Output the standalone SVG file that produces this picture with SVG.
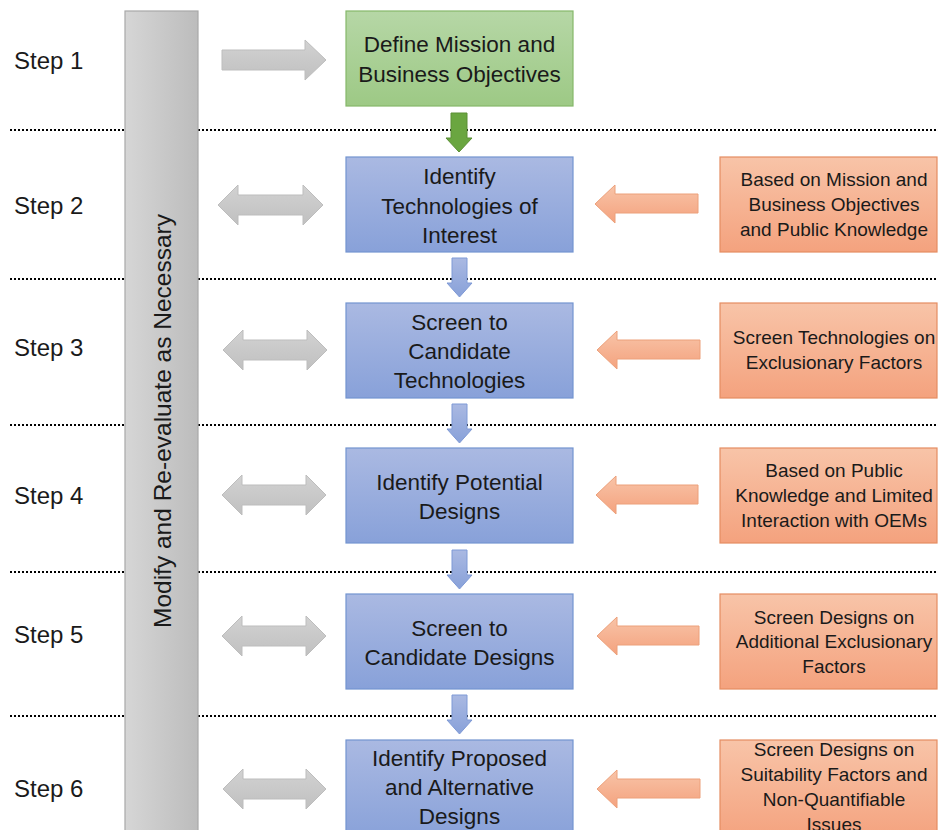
<svg xmlns="http://www.w3.org/2000/svg" width="938" height="830" viewBox="0 0 938 830">
<defs>
<linearGradient id="gBar" x1="0" y1="0" x2="1" y2="0"><stop offset="0" stop-color="#d6d6d6"/><stop offset="1" stop-color="#bcbcbc"/></linearGradient>
<linearGradient id="gGray" x1="0" y1="0" x2="0" y2="1"><stop offset="0" stop-color="#d2d2d2"/><stop offset="1" stop-color="#c0c0c0"/></linearGradient>
<linearGradient id="gGreen" x1="0" y1="0" x2="0" y2="1"><stop offset="0" stop-color="#b6d7a6"/><stop offset="1" stop-color="#9dc985"/></linearGradient>
<linearGradient id="gBlue" x1="0" y1="0" x2="0" y2="1"><stop offset="0" stop-color="#aab9e2"/><stop offset="1" stop-color="#88a1d9"/></linearGradient>
<linearGradient id="gOrange" x1="0" y1="0" x2="0" y2="1"><stop offset="0" stop-color="#f8c4a8"/><stop offset="1" stop-color="#f4a27e"/></linearGradient>
</defs>
<style>
.t{font-family:"Liberation Sans",Arial,sans-serif;fill:#1a1a1a;text-anchor:middle}
.box{font-size:22.5px}
.side{font-size:19px}
.step{font-size:24px;text-anchor:start}
.blue{fill:url(#gBlue);stroke:#7394d0;stroke-width:1.2}
.orange{fill:url(#gOrange);stroke:#e58d62;stroke-width:1.2}
.green{fill:url(#gGreen);stroke:#85b86a;stroke-width:1.2}
.garrow{fill:url(#gGray);stroke:#bdbdbd;stroke-width:1}
.oarrow{fill:url(#gOrange);stroke:#eca07a;stroke-width:1}
.barrow{fill:url(#gBlue);stroke:#7f9ad6;stroke-width:1}
.dot{stroke:#000;stroke-width:2;stroke-dasharray:2 2;fill:none}
</style>
<rect width="938" height="830" fill="#fff"/>

<g id="dividers">
<line class="dot" x1="10" y1="130" x2="938" y2="130"/>
<line class="dot" x1="10" y1="279" x2="938" y2="279"/>
<line class="dot" x1="10" y1="425" x2="938" y2="425"/>
<line class="dot" x1="10" y1="572" x2="938" y2="572"/>
<line class="dot" x1="10" y1="716" x2="938" y2="716"/>
</g>

<g id="bar">
<rect x="125" y="11" width="73" height="830" fill="url(#gBar)" stroke="#a8a8a8" stroke-width="1.2"/>
<text class="t" x="0" y="0" font-size="24.5" transform="translate(171,421) rotate(-90)">Modify and Re-evaluate as Necessary</text>
</g>

<g id="steps">
<text class="t step" x="14" y="69">Step 1</text>
<text class="t step" x="14" y="214">Step 2</text>
<text class="t step" x="14" y="356">Step 3</text>
<text class="t step" x="14" y="504">Step 4</text>
<text class="t step" x="14" y="643">Step 5</text>
<text class="t step" x="14" y="797">Step 6</text>
</g>

<g id="connectors">
<path class="garrow" d="M222,50 H305 V40 L326,60 L305,80 V70 H222 Z"/>
<path class="garrow" d="M218,205 L238,185 V195 H303 V185 L323,205 L303,225 V215 H238 V225 Z"/>
<path class="garrow" d="M223,350 L243,330 V340 H307 V330 L327,350 L307,370 V360 H243 V370 Z"/>
<path class="garrow" d="M222,495 L242,475 V485 H306 V475 L326,495 L306,515 V505 H242 V515 Z"/>
<path class="garrow" d="M222,636 L242,616 V626 H306 V616 L326,636 L306,656 V646 H242 V656 Z"/>
<path class="garrow" d="M223,789 L243,769 V779 H306 V769 L326,789 L306,809 V799 H243 V809 Z"/>

<path d="M451,113 H467 V138 H472 L459,152 L446,138 H451 Z" fill="#6aa640" stroke="#5a8f35" stroke-width="1"/>
<path class="barrow" d="M452,258 H467 V283 H472 L459.5,297 L447,283 H452 Z"/>
<path class="barrow" d="M452,404 H467 V429 H472 L459.5,443 L447,429 H452 Z"/>
<path class="barrow" d="M452,550 H467 V575 H472 L459.5,589 L447,575 H452 Z"/>
<path class="barrow" d="M452,695 H467 V720 H472 L459.5,734 L447,720 H452 Z"/>

<path class="oarrow" d="M698,194 H615 V185 L595,204 L615,223 V213 H698 Z"/>
<path class="oarrow" d="M700,340 H617 V331 L597,350 L617,369 V359 H700 Z"/>
<path class="oarrow" d="M698,485 H616 V476 L596,495 L616,514 V504 H698 Z"/>
<path class="oarrow" d="M699,626 H617 V617 L597,636 L617,655 V645 H699 Z"/>
<path class="oarrow" d="M700,779 H617 V770 L597,789 L617,808 V798 H700 Z"/>
</g>

<g id="n1">
<rect class="green" x="346" y="11" width="227" height="95"/>
<text class="t box" x="459.5" y="52">Define Mission and</text>
<text class="t box" x="459.5" y="82">Business Objectives</text>
</g>
<g id="n2">
<rect class="blue" x="346" y="157" width="227" height="95"/>
<text class="t box" x="459.5" y="184">Identify</text>
<text class="t box" x="459.5" y="214">Technologies of</text>
<text class="t box" x="459.5" y="243">Interest</text>
</g>
<g id="n3">
<rect class="blue" x="346" y="303" width="227" height="95"/>
<text class="t box" x="459.5" y="330">Screen to</text>
<text class="t box" x="459.5" y="359">Candidate</text>
<text class="t box" x="459.5" y="388">Technologies</text>
</g>
<g id="n4">
<rect class="blue" x="346" y="448" width="227" height="95"/>
<text class="t box" x="459.5" y="490">Identify Potential</text>
<text class="t box" x="459.5" y="519">Designs</text>
</g>
<g id="n5">
<rect class="blue" x="346" y="594" width="227" height="95"/>
<text class="t box" x="459.5" y="636">Screen to</text>
<text class="t box" x="459.5" y="665">Candidate Designs</text>
</g>
<g id="n6">
<rect class="blue" x="346" y="740" width="227" height="100"/>
<text class="t box" x="459.5" y="766">Identify Proposed</text>
<text class="t box" x="459.5" y="795">and Alternative</text>
<text class="t box" x="459.5" y="824">Designs</text>
</g>

<g id="s2">
<rect class="orange" x="720" y="157" width="217" height="95"/>
<text class="t side" x="834" y="186">Based on Mission and</text>
<text class="t side" x="834" y="211">Business Objectives</text>
<text class="t side" x="834" y="236">and Public Knowledge</text>
</g>
<g id="s3">
<rect class="orange" x="720" y="303" width="217" height="95"/>
<text class="t side" x="834" y="344">Screen Technologies on</text>
<text class="t side" x="834" y="369">Exclusionary Factors</text>
</g>
<g id="s4">
<rect class="orange" x="720" y="448" width="217" height="95"/>
<text class="t side" x="834" y="477">Based on Public</text>
<text class="t side" x="834" y="502">Knowledge and Limited</text>
<text class="t side" x="834" y="527">Interaction with OEMs</text>
</g>
<g id="s5">
<rect class="orange" x="720" y="594" width="217" height="95"/>
<text class="t side" x="834" y="624">Screen Designs on</text>
<text class="t side" x="834" y="648">Additional Exclusionary</text>
<text class="t side" x="834" y="673">Factors</text>
</g>
<g id="s6">
<rect class="orange" x="720" y="740" width="217" height="100"/>
<text class="t side" x="834" y="756">Screen Designs on</text>
<text class="t side" x="834" y="781">Suitability Factors and</text>
<text class="t side" x="834" y="806">Non-Quantifiable</text>
<text class="t side" x="834" y="831">Issues</text>
</g>
</svg>
